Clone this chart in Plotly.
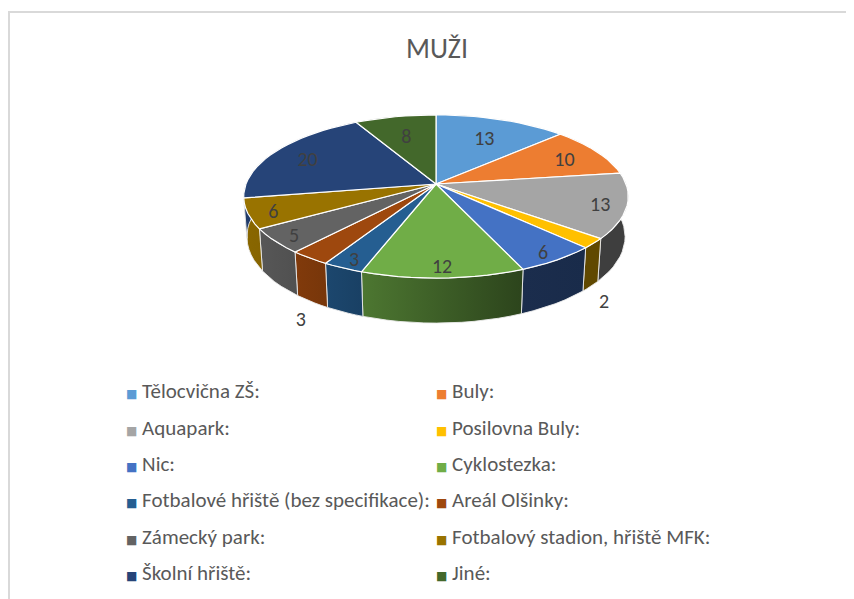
import numpy as np
import plotly.graph_objects as go

# ---------------- data ----------------
categories = [
    "Tělocvična ZŠ:", "Buly:", "Aquapark:", "Posilovna Buly:", "Nic:",
    "Cyklostezka:", "Fotbalové hřiště (bez specifikace):", "Areál Olšinky:",
    "Zámecký park:", "Fotbalový stadion, hřiště MFK:", "Školní hřiště:", "Jiné:",
]
values = [13, 10, 13, 2, 6, 12, 3, 3, 5, 6, 20, 8]
title_text = "MUŽI"

# ---------------- style ----------------
colors = ["#5B9BD5", "#ED7D31", "#A5A5A5", "#FFC000", "#4472C4", "#70AD47",
          "#255E91", "#9E480E", "#636363", "#997300", "#264478", "#43682B"]
outside_labels = {"Posilovna Buly:", "Areál Olšinky:"}
FONT = "Calibri, Carlito, Lato, sans-serif"
TEXT_COLOR = "#595959"
W, Hpx = 854, 599
OFF = 8  # page body margin


def px(x):
    return (x - OFF) / W


def py(y):
    return 1 - (y - OFF) / Hpx


# 3D projection parameters (layout only, page pixel units)
CX, CY = 436.0, 184.0
FOC, DIST, ELEV = 1125.0, 5.92, np.radians(24.8)
THICK = 0.234
se, ce = np.sin(ELEV), np.cos(ELEV)


def project(X, Y, Z):
    zc = DIST + Y * ce - Z * se
    return CX + FOC * X / zc, CY - FOC * (Y * se + Z * ce) / zc


def shade(hexcol, f):
    h = hexcol.lstrip("#")
    r, g, b = (int(h[i:i + 2], 16) for i in (0, 2, 4))
    return "rgb(%d,%d,%d)" % (r * f, g * f, b * f)


def shade_factor(x):
    return float(np.clip(0.9 - (x - 250.0) / 270.0 * 0.5, 0.38, 0.9))


total = float(sum(values))
cum = np.concatenate([[0.0], np.cumsum(values)])
theta0 = 2 * np.pi * cum[:-1] / total
theta1 = 2 * np.pi * cum[1:] / total

fig = go.Figure()

# side walls (drawn first)
for i, col in enumerate(colors):
    n = max(6, int(120 * values[i] / total))
    t = np.linspace(theta0[i], theta1[i], n)
    xt, yt = project(np.sin(t), np.cos(t), 0.0)
    xb, yb = project(np.sin(t[::-1]), np.cos(t[::-1]), -THICK)
    xs = np.concatenate([xt, xb, xt[:1]])
    ys = np.concatenate([yt, yb, yt[:1]])
    x_lo, x_hi = float(xs.min()), float(xs.max())
    fig.add_trace(go.Scatter(
        x=xs, y=ys, mode="lines", fill="toself",
        fillgradient=dict(type="horizontal", start=x_lo, stop=x_hi,
                          colorscale=[[0, shade(col, shade_factor(x_lo))],
                                      [1, shade(col, shade_factor(x_hi))]]),
        line=dict(color="rgba(235,235,235,0.9)", width=1),
        hoverinfo="skip", showlegend=False))

# top faces
for i, col in enumerate(colors):
    n = max(6, int(120 * values[i] / total))
    t = np.linspace(theta0[i], theta1[i], n)
    xt, yt = project(np.sin(t), np.cos(t), 0.0)
    xc, yc = project(0.0, 0.0, 0.0)
    xs = np.concatenate([[xc], xt, [xc]])
    ys = np.concatenate([[yc], yt, [yc]])
    fig.add_trace(go.Scatter(
        x=xs, y=ys, mode="lines", fill="toself", fillcolor=col,
        line=dict(color="white", width=1.2),
        hoverinfo="text", text="%s %d" % (categories[i], values[i]),
        showlegend=False))

# data labels
lx, ly, lt = [], [], []
for i in range(len(values)):
    mid = 0.5 * (theta0[i] + theta1[i])
    if categories[i] in outside_labels:
        r, z = 1.08, -1.2 * THICK
    else:
        r = 0.78 - 0.1 * np.cos(mid) + 0.06 * abs(np.sin(mid))
        z = 0.0
    x, y = project(r * np.sin(mid), r * np.cos(mid), z)
    lx.append(x)
    ly.append(y + 3)
    lt.append(str(values[i]))
fig.add_trace(go.Scatter(
    x=lx, y=ly, mode="text", text=lt,
    textfont=dict(family=FONT, size=20, color="#404040"),
    hoverinfo="skip", showlegend=False))

# legend entries (coloured square kept inside the entry text)
for i, col in enumerate(colors):
    label = ("<span style='color:%s;font-size:12px;font-family:DejaVu Sans'>"
             "\u25A0</span> %s" % (col, categories[i]))
    fig.add_trace(go.Scatter(
        x=[None], y=[None], mode="markers", name=label,
        marker=dict(symbol="square", size=8, color="rgba(0,0,0,0)",
                    line=dict(width=0)),
        legend="legend" if i % 2 == 0 else "legend2",
        legendgroup="g%d" % i, showlegend=True))

leg_common = dict(orientation="v", xanchor="left", yanchor="top",
                  tracegroupgap=6, bgcolor="rgba(0,0,0,0)",
                  font=dict(family=FONT, size=21, color=TEXT_COLOR),
                  itemclick=False, itemdoubleclick=False)

fig.update_layout(
    width=W, height=Hpx,
    margin=dict(l=0, r=0, t=0, b=0),
    paper_bgcolor="white", plot_bgcolor="white",
    title=dict(text=title_text, x=px(437), xanchor="center",
               y=py(48), yanchor="middle",
               font=dict(family=FONT, size=28, color=TEXT_COLOR)),
    xaxis=dict(range=[OFF, OFF + W], visible=False, fixedrange=True),
    yaxis=dict(range=[OFF + Hpx, OFF], visible=False, fixedrange=True),
    legend=dict(x=78 / W, y=1 - 362 / Hpx, **leg_common),
    legend2=dict(x=388 / W, y=1 - 362 / Hpx, **leg_common),
    showlegend=True,
    shapes=[dict(type="rect", xref="paper", yref="paper",
                 x0=1 / W, x1=1.05, y0=-0.05, y1=py(12),
                 line=dict(color="#d9d9d9", width=2), layer="below")],
)

fig.write_html("out.html")
